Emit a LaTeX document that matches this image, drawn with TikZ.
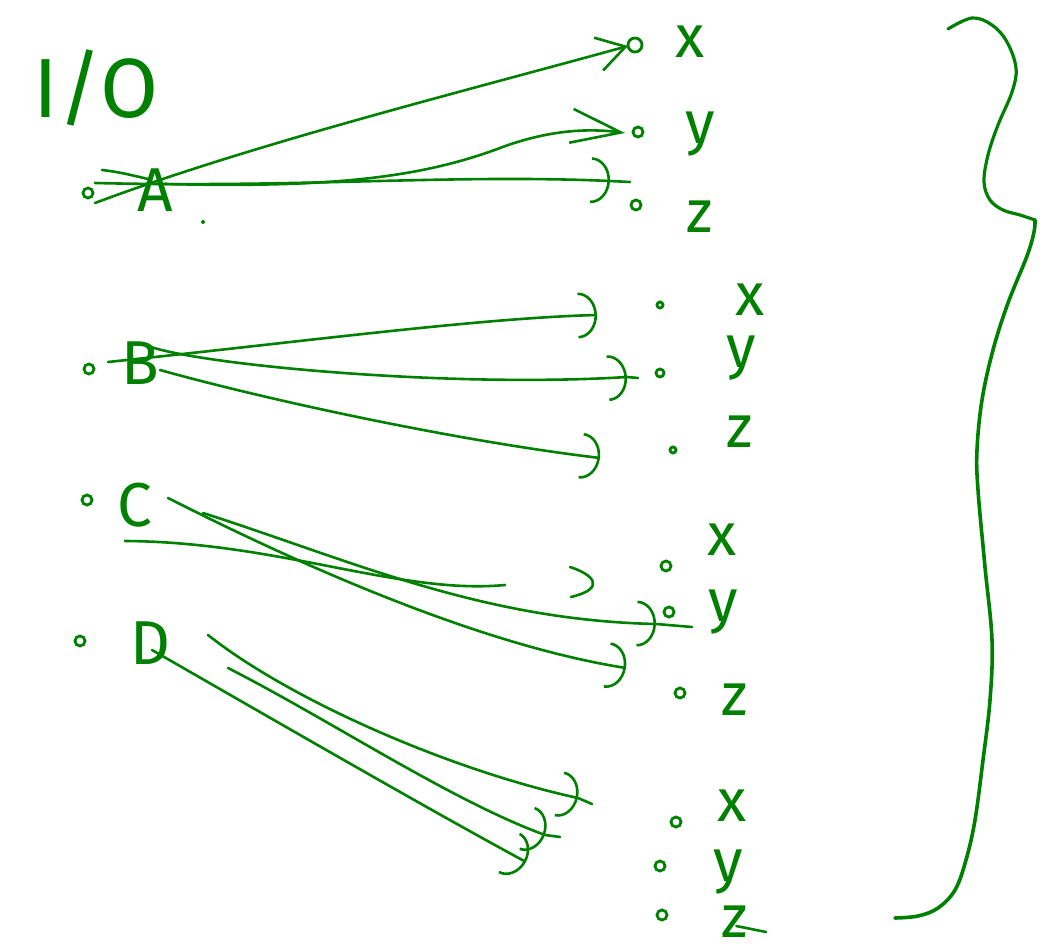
\documentclass[tikz,border=0pt]{standalone}
\usepackage{fontspec}
\setmainfont{Fira Sans}
\usetikzlibrary{arrows.meta}
\definecolor{ink}{RGB}{0,128,0}
\begin{document}
\begin{tikzpicture}[x=1pt,y=-1pt,
  pen/.style={draw=ink,line width=3.2pt,line cap=round,line join=round},
  thin pen/.style={pen,line width=2.6pt},
  cap letter/.style={text=ink,inner sep=0pt,font=\fontsize{62}{62}\selectfont},
  low letter/.style={text=ink,inner sep=0pt,font=\fontsize{60}{60}\selectfont},
  port/.style={circle,draw=ink,line width=2.8pt,inner sep=0pt,minimum size=#1},
  port/.default=10pt,
  arc tip/.style={-{Arc Barb[length=19pt,width=46pt]}},
  barb tip/.style={-{Straight Barb[length=#1,width=34pt]}},
]
\useasboundingbox (0,0) rectangle (1050,952);

% heading
\node[cap letter,font=\fontsize{84}{84}\selectfont] (io) at (96,88) {I/O};

% inputs with their terminals
\node[cap letter] (A) at (155,190) {A};
\node[cap letter] (B) at (140,363) {B};
\node[cap letter] (C) at (135,505) {C};
\node[cap letter] (D) at (150,643) {D};
\node[port] (pA) at (88,193) {};
\node[port] (pB) at (89,369) {};
\node[port] (pC) at (87,500) {};
\node[port] (pD) at (80,641) {};

% four output groups x, y, z
\node[low letter] (x1) at (690,42) {x};
\node[low letter] (y1) at (700,134) {y};
\node[low letter] (z1) at (700,217) {z};
\node[low letter] (x2) at (750,300) {x};
\node[low letter] (y2) at (741,358) {y};
\node[low letter] (z2) at (740,432) {z};
\node[low letter] (x3) at (722,540) {x};
\node[low letter] (y3) at (723,612) {y};
\node[low letter] (z3) at (735,700) {z};
\node[low letter] (x4) at (732,806) {x};
\node[low letter] (y4) at (728,872) {y};
\node[low letter] (z4) at (735,922) {z};

\node[port=14pt] (px1) at (635,45) {};
\node[port] (py1) at (638,132) {};
\node[port] (pz1) at (636,205) {};
\node[port=6pt] (px2) at (660,305) {};
\node[port=8pt] (py2) at (660,373) {};
\node[port=6pt] (pz2) at (673,450) {};
\node[port] (px3) at (666,566) {};
\node[port] (py3) at (669,612) {};
\node[port] (pz3) at (680,693) {};
\node[port] (px4) at (676,822) {};
\node[port] (py4) at (660,866) {};
\node[port] (pz4) at (662,915) {};

% end points of the strokes
\coordinate (a1) at (95,203);  \coordinate (ax) at (628,46);
\coordinate (a2) at (165,184); \coordinate (ay) at (625,133);
\coordinate (a3) at (95,183);  \coordinate (az) at (610,181);
\coordinate (b1) at (108,362); \coordinate (bx) at (597,315);
\coordinate (b2) at (148,346); \coordinate (by) at (627,377);
\coordinate (b3) at (160,370); \coordinate (bz) at (600,458);
\coordinate (c1) at (125,541); \coordinate (cx) at (505,585);
\coordinate (c2) at (203,513); \coordinate (cy) at (656,624);
\coordinate (c3) at (168,498); \coordinate (cz) at (626,668);
\coordinate (d1) at (152,650); \coordinate (dz) at (526,862);
\coordinate (d2) at (208,635); \coordinate (dx) at (578,798);
\coordinate (d3) at (228,668); \coordinate (dy) at (545,835);

% A
\draw[thin pen,barb tip=28pt] (a1) .. controls (250,145) and (450,95) .. (ax);
\draw[thin pen,barb tip=50pt] (a2) .. controls (330,188) and (420,178) .. (500,148)
                               .. controls (540,133) and (580,127) .. (ay);
\draw[thin pen,arc tip] (a3) .. controls (300,188) and (450,174) .. (az);
\draw[thin pen] (az) -- (630,182);
\draw[thin pen] (102,170) .. controls (120,172) and (135,176) .. (148,179);
\fill[ink] (203,222) circle (2);

% B
\draw[thin pen,arc tip] (b1) .. controls (300,342) and (480,318) .. (bx);
\draw[thin pen,arc tip] (b2) .. controls (200,365) and (450,388) .. (by);
\draw[thin pen] (by) -- (638,378);
\draw[thin pen,arc tip] (b3) .. controls (260,398) and (450,440) .. (bz);

% C
\draw[thin pen] (c1) .. controls (280,542) and (400,595) .. (cx);
\draw[thin pen] (570,567) .. controls (592,574) and (608,588) .. (571,597);
\draw[thin pen,arc tip] (c2) .. controls (350,560) and (480,620) .. (cy);
\draw[thin pen] (cy) -- (692,627);
\draw[thin pen,arc tip] (c3) .. controls (300,565) and (480,645) .. (cz);

% D
\draw[thin pen,arc tip] (d1) .. controls (300,735) and (430,810) .. (dz);
\draw[thin pen,arc tip] (d2) .. controls (290,700) and (450,770) .. (dx);
\draw[thin pen] (dx) -- (592,804);
\draw[thin pen,arc tip] (d3) .. controls (330,720) and (450,800) .. (dy);
\draw[thin pen] (dy) -- (560,837);

% stroke through the last z
\draw[thin pen] (z4.east) ++(-12,4) -- (766,932);

% large brace on the right
\draw[pen] plot[smooth,tension=0.6] coordinates {
  (948,29) (972,18) (992,25) (1007,42) (1016,68) (1012,92) (998,125)
  (988,155) (984,182) (990,200) (1003,210) (1020,215) (1035,220)};
\draw[pen,line width=3.6pt] plot[smooth,tension=0.6] coordinates {
  (1035,220) (1034,232) (1027,256) (1008,303) (993,350) (982,400)
  (977,450) (978,490) (985,567) (992,640) (990,700) (983,760)
  (975,820) (966,860) (955,890) (938,908) (918,916) (895,918)};
\end{tikzpicture}
\end{document}
